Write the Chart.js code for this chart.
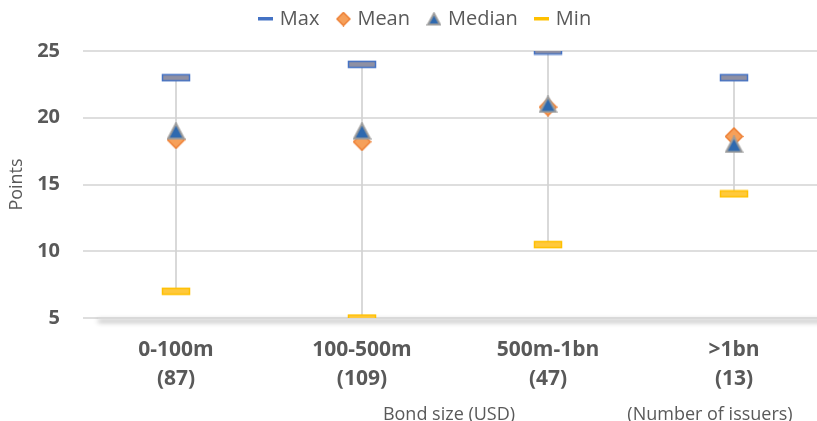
<!DOCTYPE html>
<html><head><meta charset="utf-8">
<script src="https://cdn.jsdelivr.net/npm/chart.js@4"></script>
<style>
html,body{margin:0;padding:0;background:#fff;overflow:hidden;}
#wrap{width:854px;height:421px;position:relative;}
</style></head>
<body><div id="wrap"><canvas id="c"></canvas></div>
<script>
// ---- data ----
const categories = [['0-100m','(87)'],['100-500m','(109)'],['500m-1bn','(47)'],['>1bn','(13)']];
const maxValues = [23, 24, 25, 23];
const meanValues = [18.35, 18.2, 20.8, 18.6];
const medianValues = [19, 19, 21, 18];
const minValues = [7, 5, 10.5, 14.3];
const yTicks = [5, 10, 15, 20, 25];
const seriesNames = ['Max', 'Mean', 'Median', 'Min'];
const yTitle = 'Points';
const xTitle = 'Bond size (USD)';
const xNote = '(Number of issuers)';

// ---- marker images ----
function makeImg(w, h, draw){ const c = document.createElement('canvas'); c.width = w; c.height = h; draw(c.getContext('2d'), w, h); return c; }
const barMarker = (fill, stroke) => makeImg(30, 9, (g) => { g.fillStyle = fill; g.fillRect(1.5,1.5,27,6); g.strokeStyle = stroke; g.lineWidth = 1.5; g.strokeRect(1.5,1.5,27,6); });
const diamond = (s) => makeImg(s, s, (g, w, h) => { g.beginPath(); g.moveTo(w/2,1); g.lineTo(w-1,h/2); g.lineTo(w/2,h-1); g.lineTo(1,h/2); g.closePath(); g.fillStyle = '#F6A05A'; g.fill(); g.strokeStyle = '#ED7D31'; g.lineWidth = 1.5; g.stroke(); });
const triangle = (w0, h0) => makeImg(w0, h0, (g, w, h) => { g.beginPath(); g.moveTo(w/2,1.5); g.lineTo(w-1.5,h-1.5); g.lineTo(1.5,h-1.5); g.closePath(); g.fillStyle = '#2E69AF'; g.fill(); g.strokeStyle = '#9C9C9C'; g.lineWidth = 2; g.stroke(); });
const lineIcon = (color) => makeImg(15, 5, (g) => { g.fillStyle = color; g.fillRect(0,0,15,4); });

const markerMax = barMarker('#8F90A3', '#4472C4');
const markerMin = barMarker('#FFC93C', '#FFC000');
const markerMean = diamond(19);
const markerMedian = triangle(19, 18);
const legendIcons = [lineIcon('#4472C4'), diamond(15), triangle(15, 14), lineIcon('#FFC000')];

Chart.defaults.font.family = "'Open Sans', sans-serif";
Chart.defaults.color = '#595959';

const legendSpace = {
  id: 'legendSpace',
  beforeInit(chart){
    const lg = chart.legend;
    if (!lg) return;
    const orig = lg.fit;
    lg.fit = function(){ orig.call(this); this.height += 1; };
  },
  afterLayout(chart){
    if (chart.legend) { chart.legend.left += 26; chart.legend.top -= 11; }
  }
};

const extras = {
  id: 'extras',
  beforeDatasetsDraw(chart){
    const {ctx, chartArea: a} = chart;
    const y = chart.scales.y.getPixelForValue(yTicks[0]);
    ctx.save();
    ctx.strokeStyle = '#d9d9d9'; ctx.lineWidth = 2;
    ctx.shadowColor = 'rgba(0,0,0,0.45)'; ctx.shadowBlur = 5; ctx.shadowOffsetY = 3;
    ctx.beginPath(); ctx.moveTo(a.left + 15, y); ctx.lineTo(a.right, y); ctx.stroke();
    ctx.restore();
  },
  afterDraw(chart){
    const {ctx, chartArea: a} = chart;
    ctx.save();
    ctx.font = "18px 'Open Sans'"; ctx.fillStyle = '#595959'; ctx.textAlign = 'center'; ctx.textBaseline = 'alphabetic';
    ctx.fillText(xTitle, (a.left + a.right)/2 - 6, 420);
    ctx.fillText(xNote, a.right - 117, 420);
    ctx.restore();
  }
};

const pt = (img) => ({ pointStyle: img, pointRadius: 10, pointHoverRadius: 10, showLine: false, type: 'line' });

new Chart(document.getElementById('c'), {
  type: 'bar',
  data: {
    labels: categories,
    datasets: [
      Object.assign({ label: seriesNames[0], data: maxValues, order: 3 }, pt(markerMax)),
      Object.assign({ label: seriesNames[1], data: meanValues, order: 2 }, pt(markerMean)),
      Object.assign({ label: seriesNames[2], data: medianValues, order: 1 }, pt(markerMedian)),
      Object.assign({ label: seriesNames[3], data: minValues, order: 3 }, pt(markerMin)),
      { type: 'bar', label: 'range', data: minValues.map((v, i) => [v, maxValues[i]]), backgroundColor: '#d2d2d2', barThickness: 1, order: 10 }
    ]
  },
  options: {
    responsive: true, maintainAspectRatio: false, animation: false, devicePixelRatio: 1,
    layout: { padding: { left: 0, right: 27, top: 0, bottom: 17 } },
    plugins: {
      tooltip: { enabled: false },
      legend: {
        position: 'top',
        labels: {
          usePointStyle: true, boxWidth: 8, boxHeight: 15, padding: 20,
          font: { size: 20 }, color: '#595959',
          generateLabels: (chart) => seriesNames.map((n, i) => ({ text: n, pointStyle: legendIcons[i], fontColor: '#595959', datasetIndex: i, hidden: false, lineWidth: 0, strokeStyle: 'rgba(0,0,0,0)', fillStyle: 'rgba(0,0,0,0)' }))
        }
      }
    },
    scales: {
      x: {
        offset: true,
        grid: { display: false }, border: { display: false },
        ticks: { font: { size: 21, weight: 'bold', lineHeight: '29px' }, padding: 10, maxRotation: 0, autoSkip: false, color: '#595959' }
      },
      y: {
        min: yTicks[0], max: yTicks[yTicks.length - 1],
        afterBuildTicks: (s) => { s.ticks = yTicks.map(v => ({ value: v })); },
        afterFit: (s) => { s.width = 83; },
        grid: { color: '#dedede', lineWidth: 2, drawTicks: false },
        border: { display: false },
        ticks: { font: { size: 20, weight: 'bold' }, padding: 23, color: '#595959' },
        title: { display: true, text: yTitle, font: { size: 18 }, color: '#595959', padding: { top: 6, bottom: 0 } }
      }
    }
  },
  plugins: [legendSpace, extras]
});
</script>
</body></html>
